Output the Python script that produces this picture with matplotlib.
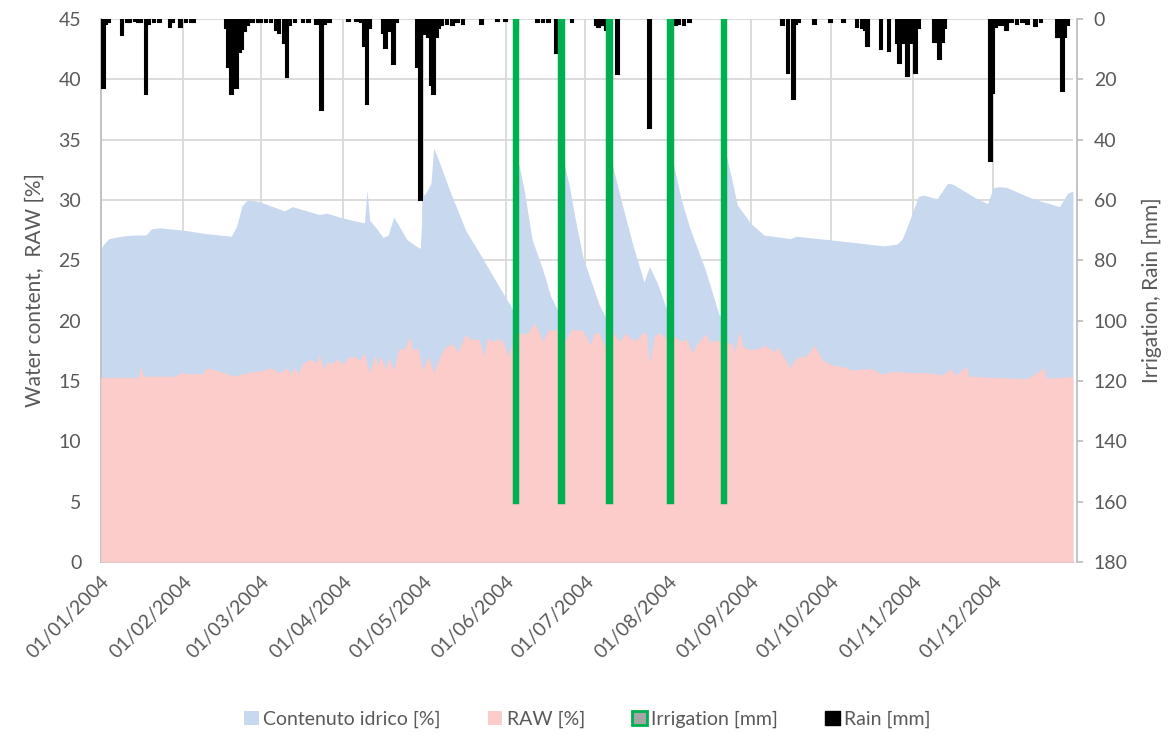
import numpy as np
import pandas as pd
import matplotlib
matplotlib.use("Agg")
import matplotlib.pyplot as plt
from matplotlib.patches import Patch

plt.rcParams['font.family'] = ['Lato', 'DejaVu Sans']

# ---------------- data (day of year, 0 = 01/01/2004) ----------------
wc_days = [0, 1, 3, 8, 12, 17, 19, 22, 31, 40, 49, 51, 53, 55, 59, 69, 72, 82, 85, 91,
           99, 100, 101, 103, 106, 108, 110, 115, 119, 120, 121, 122, 124, 125, 126, 131,
           137, 143, 151, 154, 156, 157, 159, 162, 166, 169, 172, 173, 174, 176, 178, 181,
           187, 190, 191, 192, 196, 200, 204, 206, 209, 213, 214, 215, 218, 221, 227, 232,
           234, 235, 237, 239, 244, 249, 259, 261, 274, 294, 299, 301, 304, 307, 309, 314,
           318, 320, 329, 333, 335, 337, 340, 350, 360, 363, 365]
wc_vals = [25.9, 26.3, 26.8, 27.0, 27.1, 27.1, 27.6, 27.7, 27.5, 27.2, 27.0, 27.8, 29.5, 30.0,
           29.9, 29.1, 29.45, 28.8, 28.9, 28.5, 28.1, 30.8, 28.3, 27.8, 26.9, 27.1, 28.6, 26.7,
           26.1, 26.0, 30.4, 30.55, 31.4, 34.3, 33.8, 30.8, 27.5, 25.3, 22.3, 21.2, 20.3, 33.0,
           30.8, 26.7, 24.2, 22.0, 20.7, 20.4, 33.0, 31.1, 28.6, 25.3, 21.4, 20.05, 19.8, 33.0,
           29.45, 26.1, 23.2, 24.5, 23.1, 20.6, 20.2, 33.0, 30.0, 27.8, 24.2, 20.6, 19.8, 33.6,
           31.65, 29.6, 28.07, 27.1, 26.8, 27.0, 26.7, 26.2, 26.35, 26.8, 28.5, 30.3, 30.4, 30.1,
           31.4, 31.3, 30.1, 29.7, 31.0, 31.1, 31.05, 30.1, 29.45, 30.55, 30.75]

raw_days = [0, 14, 15, 16, 28, 30, 33, 38, 40, 44, 50, 55, 61, 64, 67, 70, 71, 73, 74, 76,
            79, 81, 82, 84, 85, 86, 89, 91, 93, 96, 97, 99, 100, 101, 103, 104, 105, 107, 108,
            110, 112, 114, 116, 117, 119, 121, 123, 125, 127, 129, 132, 134, 137, 139, 142,
            144, 145, 147, 149, 151, 153, 154, 156, 157, 160, 163, 164, 166, 168, 171, 173,
            175, 177, 181, 184, 185, 187, 190, 192, 195, 197, 199, 201, 204, 205, 206, 208,
            210, 212, 216, 218, 220, 222, 224, 227, 229, 231, 233, 235, 237, 238, 240, 241,
            244, 248, 249, 253, 254, 259, 260, 262, 265, 268, 271, 274, 276, 279, 282, 285,
            290, 293, 298, 304, 310, 316, 319, 321, 325, 326, 335, 348, 354, 355, 365]
raw_vals = [15.3, 15.3, 16.2, 15.4, 15.4, 15.7, 15.6, 15.6, 16.1, 15.85, 15.4, 15.7, 15.9, 16.1,
            15.7, 16.1, 15.65, 16.1, 15.6, 16.5, 16.8, 16.5, 17.2, 15.9, 16.7, 16.4, 16.8, 16.4,
            17.0, 17.0, 16.7, 17.35, 16.4, 15.7, 17.2, 16.3, 17.1, 16.0, 16.9, 15.9, 17.7, 17.6,
            18.7, 17.6, 17.75, 15.9, 17.1, 15.7, 16.8, 17.75, 18.1, 17.4, 18.9, 18.4, 18.5, 17.0,
            18.6, 18.3, 18.5, 18.3, 17.0, 17.8, 18.4, 19.0, 18.9, 19.8, 19.3, 18.3, 19.2, 19.3,
            18.05, 18.6, 19.3, 19.2, 18.0, 18.9, 19.0, 17.57, 19.1, 18.3, 19.0, 18.5, 18.4, 19.1,
            18.8, 16.5, 18.75, 19.0, 18.6, 18.6, 18.3, 18.5, 17.35, 18.1, 18.9, 18.2, 18.4, 18.2,
            18.25, 18.05, 17.4, 19.2, 17.85, 17.6, 17.75, 18.0, 17.45, 17.85, 16.1, 16.6, 17.0,
            17.1, 17.95, 16.75, 16.4, 16.25, 16.2, 15.9, 16.0, 16.0, 15.6, 15.8, 15.7, 15.7, 15.5,
            16.0, 15.5, 16.2, 15.4, 15.3, 15.2, 16.1, 15.25, 15.35]

irr_days = [156, 173, 191, 214, 234]
irr_mm = [160, 160, 160, 160, 160]

rain_days = [1, 2, 3, 8, 10, 11, 13, 14, 15, 17, 18, 20, 22, 26, 27, 30, 32, 34, 35,
             47, 48, 49, 50, 51, 52, 53, 54, 55, 57, 59, 60, 62, 64, 66, 67, 69, 70, 71,
             73, 76, 78, 81, 83, 84, 86, 93, 96, 98, 99, 100, 101, 106, 107, 108, 110, 111,
             119, 120, 122, 123, 124, 125, 126, 127, 128, 130, 132, 134, 136, 143, 149, 152,
             156, 164, 166, 168, 171, 177, 186, 187, 188, 189, 190, 194, 206, 216, 217, 219,
             221, 234, 256, 258, 260, 261, 262, 268, 274, 279, 284, 286, 287, 288, 293, 296,
             299, 300, 301, 302, 303, 304, 305, 306, 307, 313, 314, 315, 316, 317, 334, 335,
             336, 337, 339, 340, 342, 344, 346, 348, 351, 353, 359, 360, 361, 362, 363]
rain_mm = [23, 1.5, 1, 5.3, 1, 1, 0.8, 1, 1, 25, 1.5, 1, 1, 2.5, 1, 2.8, 1, 1, 1,
           3, 16, 25, 8, 23, 11, 10, 4, 2, 1, 1, 1, 1, 1, 3.7, 4.7, 8, 19.3, 2,
           1, 1, 1, 1.5, 30, 1.5, 1, 0.5, 0.8, 1, 8.8, 28.3, 3, 4.6, 9.7, 4, 15, 1,
           16, 60, 5, 6, 22, 25, 6, 3, 2, 1.5, 2, 1, 1.5, 1.5, 0.8, 0.8,
           3.3, 1, 1, 1, 11.4, 1, 2, 2.5, 2, 2, 3.6, 18.3, 36.2, 2, 1.5, 2,
           1, 1, 2, 18, 26.6, 1.5, 1, 1.5, 1, 1, 2.5, 3, 3.5, 9, 10, 10.6,
           8, 14.7, 8, 8, 19, 8, 8, 17.8, 3, 7.5, 7.5, 13.4, 7.5, 3, 47, 24.6,
           2.5, 2, 2, 3.6, 1, 1.5, 1, 1.5, 2.3, 1, 5.8, 5.8, 24, 5.8, 2]

tick_labels = ['01/01/2004', '01/02/2004', '01/03/2004', '01/04/2004', '01/05/2004',
               '01/06/2004', '01/07/2004', '01/08/2004', '01/09/2004', '01/10/2004',
               '01/11/2004', '01/12/2004']

# ---------------- plot ----------------
start = pd.Timestamp('2004-01-01')
to_date = lambda d: start + pd.to_timedelta(np.asarray(d, dtype=float), unit='D')

TXT = '#595959'
GRID = '#D9D9D9'

fig = plt.figure(figsize=(11.75, 7.34), dpi=100)
ax = fig.add_axes([0.0857, 0.2343, 0.8274, 0.7398])

ax.fill_between(to_date(wc_days), 0, wc_vals, color='#C7D8EF', lw=0, zorder=2)
ax.fill_between(to_date(raw_days), 0, raw_vals, color='#FCCCCB', lw=0, zorder=3)

ax.set_ylim(0, 45)
ax.set_yticks(np.arange(0, 46, 5))
ax.set_xlim(start, start + pd.Timedelta(days=365))
ticks = pd.to_datetime(tick_labels, format='%d/%m/%Y')
ax.set_xticks(ticks)
ax.set_xticklabels(tick_labels, rotation=45, ha='right', va='top', rotation_mode='anchor',
                   color=TXT, fontsize=14)
ax.tick_params(axis='x', length=0, pad=8)
ax.tick_params(axis='y', length=0, pad=14, labelcolor=TXT, labelsize=14)
ax.grid(True, color=GRID, lw=1.3, zorder=0)
ax.set_axisbelow(True)
for s in ['top', 'right']:
    ax.spines[s].set_visible(False)
ax.spines['left'].set_color('#BFBFBF')
ax.spines['bottom'].set_color('#BFBFBF')
ax.spines['left'].set_linewidth(1.3)
ax.spines['bottom'].set_linewidth(1.3)
ax.set_ylabel('Water content,  RAW [%]', color=TXT, fontsize=15, labelpad=10)

ax2 = ax.twinx()
ax2.bar(to_date(rain_days), rain_mm, width=1.0, color='black', edgecolor='black', lw=1.5,
        zorder=3)
ax2.bar(to_date(irr_days), irr_mm, width=0.9, color='#A5A5A5', edgecolor='#00B050', lw=3.2,
        zorder=4)
ax2.set_ylim(180, 0)
ax2.set_yticks(np.arange(0, 181, 20))
ax2.tick_params(axis='y', length=4, width=1.3, color='#BFBFBF', pad=8, labelcolor=TXT,
                labelsize=14)
for s in ['top', 'left', 'bottom']:
    ax2.spines[s].set_visible(False)
ax2.spines['right'].set_color('#BFBFBF')
ax2.spines['right'].set_linewidth(1.3)
ax2.spines['right'].set_position(('outward', 3))
ax2.set_ylabel('Irrigation, Rain [mm]', color=TXT, fontsize=15, labelpad=10)

handles = [Patch(facecolor='#C7D8EF', edgecolor='none', label='Contenuto idrico [%]'),
           Patch(facecolor='#FCCCCB', edgecolor='none', label='RAW [%]'),
           Patch(facecolor='#A5A5A5', edgecolor='#00B050', lw=2, label='Irrigation [mm]'),
           Patch(facecolor='black', edgecolor='black', label='Rain [mm]')]
leg = fig.legend(handles=handles, loc='center', bbox_to_anchor=(0.5, 0.02), ncol=4,
                 frameon=False, fontsize=14, handlelength=0.75, handleheight=0.75,
                 handletextpad=0.25, columnspacing=2.4)
for t in leg.get_texts():
    t.set_color(TXT)

fig.savefig('out.png', dpi=100)
